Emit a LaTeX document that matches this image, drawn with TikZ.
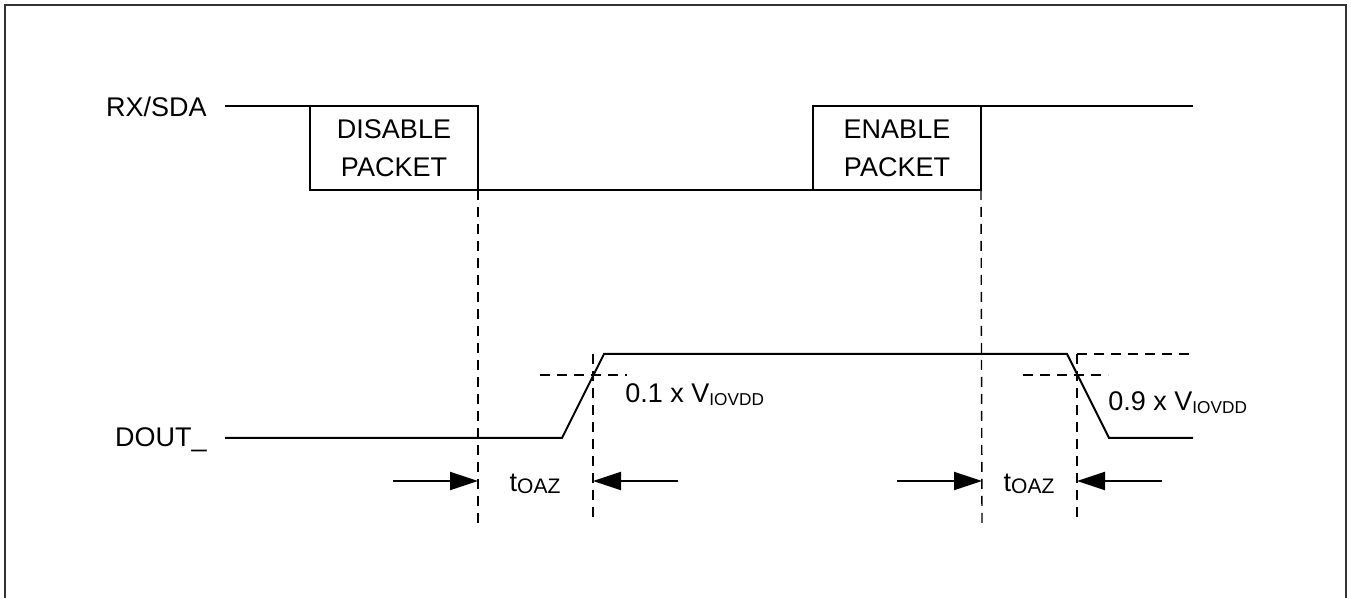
\documentclass[tikz,border=0pt]{standalone}
\usepackage{fontspec}
\setmainfont{Liberation Sans}
\usetikzlibrary{
  arrows.meta, % for the Triangle arrow tip
  positioning, % for relative placement of the labels
}
\newcommand{\tsub}[1]{\raisebox{-0.6pt}{\fontsize{10.5pt}{12pt}\selectfont #1}} % subscript of t
\newcommand{\vsub}[1]{\raisebox{-1.5pt}{\fontsize{8.6pt}{10pt}\selectfont #1}} % subscript of V
\tikzset{
  frame/.style={ % style for the outer frame
    draw=black!80,line width=1pt,
  },
  wave/.style={ % style for the signal lines
    line width=1pt,line join=miter,
  },
  pkt/.style={ % style for the packet boxes
    rectangle,draw,line width=1pt,
    minimum width=84pt,minimum height=42pt,
    inner sep=0pt,outer sep=0pt,
    align=center,
  },
  guide/.style={ % style for the dashed guide lines
    line width=0.7pt,dash pattern=on 5pt off 3.5pt,
  },
  dim/.style={ % style for the timing arrows
    -{Triangle[length=14pt,width=9pt]},
    line width=1pt,
  },
  lbl/.style={ % style for the texts
    inner sep=0pt,
    font=\fontsize{13.5pt}{19pt}\selectfont,
  },
}
\begin{document}
\begin{tikzpicture}[x=0.5pt,y=-0.5pt]

	\useasboundingbox (0,0) rectangle (1351,598);
	\draw[frame] (5,600) -- (5,5) -- (1346,5) -- (1346,600);

	% RX/SDA
	\node[lbl,anchor=base east] (rxlbl) at (207,117) {RX/SDA};
	\coordinate (rx0) at (225,106);
	\coordinate (rx1) at (1193,106);
	\node[pkt,lbl,anchor=north west] (dispkt) at (310,106) {DISABLE\\PACKET};
	\node[pkt,lbl,anchor=north west] (enpkt) at (813,106) {ENABLE\\PACKET};

	\draw[wave] (rx0) -- (dispkt.north west);
	\draw[wave] (dispkt.south east) -- (enpkt.south west);
	\draw[wave] (enpkt.north east) -- (rx1);

	% DOUT_
	\node[lbl,anchor=base east] (doutlbl) at (207,447) {DOUT\_};
	\coordinate (d0) at (225,438);
	\coordinate (rise0) at (562,438);
	\coordinate (rise1) at (604,354);
	\coordinate (fall0) at (1067,354);
	\coordinate (fall1) at (1109,438);
	\coordinate (d1) at (1193,438);

	\draw[wave] (d0) -- (rise0) -- (rise1) -- (fall0) -- (fall1) -- (d1);

	% guide lines
	\coordinate (lvl0a) at (540,375);
	\coordinate (lvl0b) at (627,375);
	\coordinate (lvl1a) at (1023,375);
	\coordinate (lvl1b) at (1108,375);
	\coordinate (top1a) at (1077,354);
	\coordinate (top1b) at (1193,354);
	\coordinate (cr0) at (593,354);
	\coordinate (bot0) at (478,523);
	\coordinate (bot1) at (593,523);
	\coordinate (bot2) at (982,523);
	\coordinate (bot3) at (1077,523);

	\draw[guide] (dispkt.south east) -- (bot0);
	\draw[guide] (cr0) -- (bot1);
	\draw[guide] (enpkt.south east) -- (bot2);
	\draw[guide] (top1a) -- (bot3);
	\draw[guide] (lvl0a) -- (lvl0b);
	\draw[guide] (lvl1a) -- (lvl1b);
	\draw[guide] (top1a) -- (top1b);

	\node[lbl,anchor=base west] (lvl0lbl) at (625,403) {0.1 x V\vsub{IOVDD}};
	\node[lbl,anchor=base west] (lvl1lbl) at (1108,411) {0.9 x V\vsub{IOVDD}};

	% timing arrows
	\coordinate (a0) at (393,481);
	\coordinate (a0e) at (478,481);
	\coordinate (a1) at (678,481);
	\coordinate (a1e) at (593,481);
	\coordinate (a2) at (897,481);
	\coordinate (a2e) at (982,481);
	\coordinate (a3) at (1162,481);
	\coordinate (a3e) at (1077,481);

	\draw[dim] (a0) -- (a0e);
	\draw[dim] (a1) -- (a1e);
	\draw[dim] (a2) -- (a2e);
	\draw[dim] (a3) -- (a3e);

	\node[lbl,anchor=base] (toaz0) at (535,492) {t\tsub{OAZ}};
	\node[lbl,anchor=base] (toaz1) at (1029,492) {t\tsub{OAZ}};

\end{tikzpicture}
\end{document}
